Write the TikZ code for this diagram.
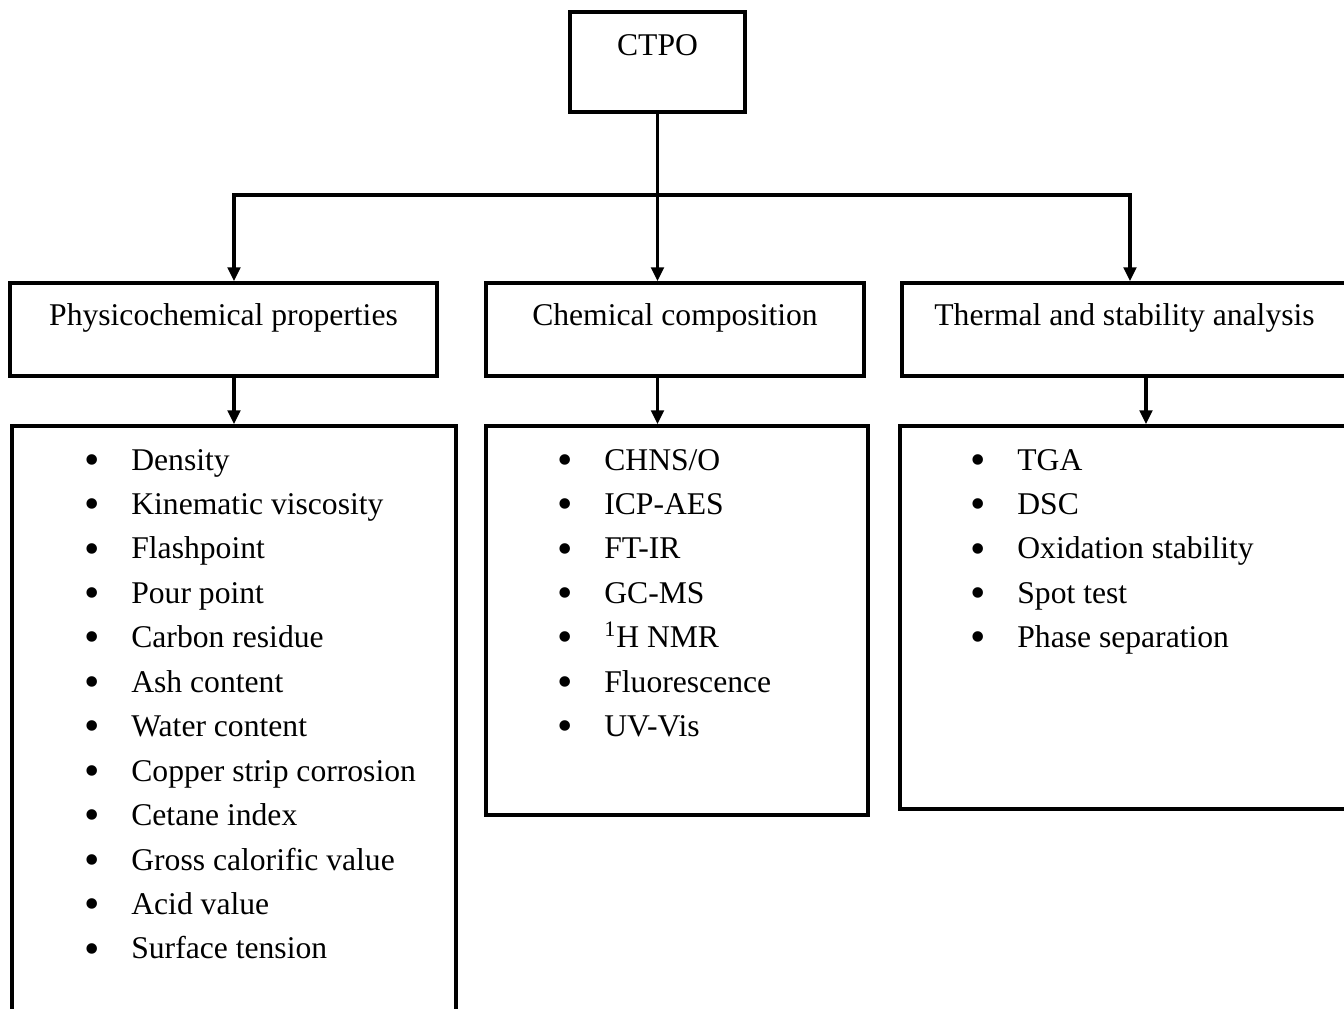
\documentclass[tikz,border=0pt]{standalone}
\usepackage{fontspec}
\setmainfont{Liberation Serif}
\usetikzlibrary{arrows.meta}
\newcommand{\bitem}[1]{\makebox[0.89cm][l]{\hspace{-0.04cm}\raisebox{-0.13em}{\fontsize{25}{25}\selectfont\textbullet}}#1}

\begin{document}
\begin{tikzpicture}[x=0.02cm,y=-0.02cm,>={Triangle[length=0.28cm,width=0.25cm]},
  box/.style={draw,line width=2pt,inner sep=0pt,font=\fontsize{18}{25.3}\selectfont,text height=13pt},
  link/.style={line width=2pt},
  items/.style={anchor=base west,inner sep=0pt,font=\fontsize{18}{25.3}\selectfont}]
\useasboundingbox (0,0) rectangle (1344,1008);
\clip (0,0) rectangle (1344,1008);
% top
\node[box,minimum width=3.5cm,minimum height=2cm,text depth=20pt] (ctpo) at (657.5,62) {CTPO};
% second row
\node[box,minimum width=8.54cm,minimum height=1.86cm,text depth=17pt] (phys) at (223.5,329.5) {Physicochemical properties};
\node[box,minimum width=7.56cm,minimum height=1.86cm,text depth=17pt] (chem) at (675,329.5) {Chemical composition};
\node[box,minimum width=8.9cm,minimum height=1.86cm,text depth=17pt] (therm) at (1124.5,329.5) {Thermal and stability analysis};
% list boxes
\node[box,minimum width=8.88cm,minimum height=12.3cm] (physlist) at (234,733.5) {};
\node[box,minimum width=7.64cm,minimum height=7.78cm] (chemlist) at (677,620.5) {};
\node[box,minimum width=9.2cm,minimum height=7.66cm] (thermlist) at (1130,617.5) {};
\node[items] (physitems) at (86.5,470) {\begin{tabular}[t]{@{}l@{}}
  \bitem{Density}\\ \bitem{Kinematic viscosity}\\ \bitem{Flashpoint}\\
  \bitem{Pour point}\\ \bitem{Carbon residue}\\ \bitem{Ash content}\\
  \bitem{Water content}\\ \bitem{Copper strip corrosion}\\ \bitem{Cetane index}\\
  \bitem{Gross calorific value}\\ \bitem{Acid value}\\ \bitem{Surface tension}
\end{tabular}};
\node[items] (chemitems) at (559.5,470) {\begin{tabular}[t]{@{}l@{}}
  \bitem{CHNS/O}\\ \bitem{ICP-AES}\\ \bitem{FT-IR}\\ \bitem{GC-MS}\\
  \bitem{\textsuperscript{1}H NMR}\\ \bitem{Fluorescence}\\ \bitem{UV-Vis}
\end{tabular}};
\node[items] (thermitems) at (972.5,470) {\begin{tabular}[t]{@{}l@{}}
  \bitem{TGA}\\ \bitem{DSC}\\ \bitem{Oxidation stability}\\
  \bitem{Spot test}\\ \bitem{Phase separation}
\end{tabular}};
% connectors
\coordinate (busl) at (234,195);
\coordinate (busr) at (1130,195);
\draw[link,->] (ctpo.south) -- (ctpo.south |- chem.north);
\draw[link,<->] (busl |- phys.north) -- (busl) -- (busr) -- (busr |- therm.north);
\draw[link,->] (busl |- phys.south) -- (busl |- physlist.north);
\draw[link,->] (ctpo.south |- chem.south) -- (ctpo.south |- chemlist.north);
\draw[link,->] ([xshift=0.43cm]therm.south) -- ([xshift=0.43cm]therm.south |- thermlist.north);
\end{tikzpicture}
\end{document}
